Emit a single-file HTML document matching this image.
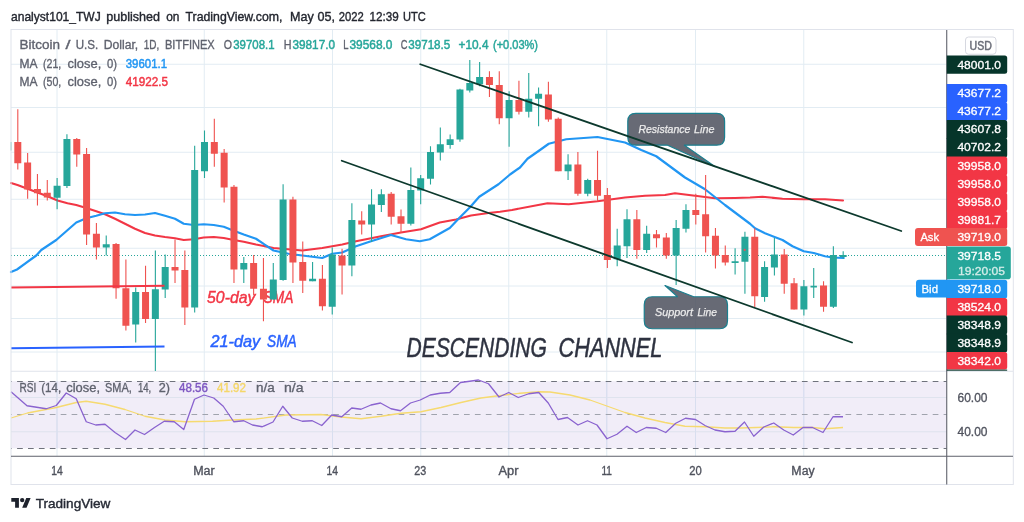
<!DOCTYPE html>
<html><head><meta charset="utf-8"><title>BTCUSD chart</title>
<style>html,body{margin:0;padding:0;background:#fff;}body{width:1024px;height:522px;overflow:hidden;font-family:"Liberation Sans",sans-serif;}svg{display:block;}text{font-family:"Liberation Sans",sans-serif;}</style></head><body>
<svg width="1024" height="522" viewBox="0 0 1024 522">
<rect x="0" y="0" width="1024" height="522" fill="#ffffff"/>
<g opacity="0.999">
<g stroke="#e2ecf3" stroke-width="1" fill="none">
<line x1="57" y1="30" x2="57" y2="456"/>
<line x1="204.25" y1="30" x2="204.25" y2="456"/>
<line x1="332.5" y1="30" x2="332.5" y2="456"/>
<line x1="420.75" y1="30" x2="420.75" y2="456"/>
<line x1="508.75" y1="30" x2="508.75" y2="456"/>
<line x1="606.75" y1="30" x2="606.75" y2="456"/>
<line x1="695.5" y1="30" x2="695.5" y2="456"/>
<line x1="803.75" y1="30" x2="803.75" y2="456"/>
<line x1="11" y1="64.25" x2="946.5" y2="64.25"/>
<line x1="11" y1="107.5" x2="946.5" y2="107.5"/>
<line x1="11" y1="152.25" x2="946.5" y2="152.25"/>
<line x1="11" y1="199.25" x2="946.5" y2="199.25"/>
<line x1="11" y1="248.25" x2="946.5" y2="248.25"/>
<line x1="11" y1="286" x2="946.5" y2="286"/>
<line x1="11" y1="318.5" x2="946.5" y2="318.5"/>
<line x1="11" y1="352" x2="946.5" y2="352"/>
</g>
<rect x="11" y="381.25" width="935.5" height="67" fill="#7e57c2" fill-opacity="0.11"/>
<g stroke="#dfe3ee" stroke-width="1" fill="none">
<line x1="11" y1="397.5" x2="946.5" y2="397.5"/>
<line x1="11" y1="431.75" x2="946.5" y2="431.75"/>
</g>
<g stroke="#d9dff0" stroke-width="1" fill="none" opacity="0.9">
<line x1="57" y1="381.25" x2="57" y2="448.25"/>
<line x1="204.25" y1="381.25" x2="204.25" y2="448.25"/>
<line x1="332.5" y1="381.25" x2="332.5" y2="448.25"/>
<line x1="420.75" y1="381.25" x2="420.75" y2="448.25"/>
<line x1="508.75" y1="381.25" x2="508.75" y2="448.25"/>
<line x1="606.75" y1="381.25" x2="606.75" y2="448.25"/>
<line x1="695.5" y1="381.25" x2="695.5" y2="448.25"/>
<line x1="803.75" y1="381.25" x2="803.75" y2="448.25"/>
</g>
<g stroke="#787b86" stroke-width="1" fill="none" stroke-dasharray="5.7,5.2" stroke-dashoffset="4.8">
<line x1="11" y1="381.5" x2="946.5" y2="381.5" stroke="#6f727c"/>
<line x1="11" y1="414.5" x2="946.5" y2="414.5" stroke="#a0a3ad"/>
<line x1="11" y1="448.5" x2="946.5" y2="448.5" stroke="#6f727c"/>
</g>
<path d="M11.00,418.00 L27.50,413.00 L56.25,407.50 L76.25,402.50 L86.25,401.25 L105.00,404.25 L125.00,409.50 L145.00,416.25 L165.00,420.00 L185.00,421.75 L212.50,421.25 L232.50,420.00 L256.00,419.00 L286.00,415.00 L321.00,414.50 L341.00,417.00 L361.00,418.75 L381.00,416.25 L401.00,413.25 L421.00,411.75 L441.00,407.50 L461.00,402.50 L481.00,398.00 L498.50,395.75 L520.00,393.25 L540.00,391.75 L550.00,392.00 L570.00,395.00 L590.00,400.00 L607.50,406.25 L625.00,412.50 L645.00,418.00 L665.00,422.50 L685.00,426.25 L705.00,426.75 L725.00,428.00 L740.00,428.00 L756.00,427.50 L773.75,426.75 L793.75,427.50 L812.50,427.50 L825.00,428.75 L843.00,427.50" fill="none" stroke="#f6da70" stroke-width="1.3" stroke-linejoin="round"/>
<path d="M11.00,391.75 L27.00,405.75 L46.25,408.75 L56.25,405.50 L66.25,393.00 L76.25,398.75 L86.25,421.75 L95.75,425.00 L105.00,424.25 L115.00,432.50 L125.50,439.50 L135.00,430.00 L144.50,434.50 L154.50,427.50 L164.25,421.25 L174.25,421.75 L183.75,429.50 L194.50,399.25 L204.00,395.00 L213.75,398.00 L223.25,406.25 L233.75,421.75 L243.75,420.75 L252.50,425.00 L262.25,426.75 L273.00,422.00 L282.75,406.25 L292.25,418.00 L302.25,421.25 L312.25,420.75 L321.75,425.50 L331.75,415.00 L341.75,416.75 L351.75,408.00 L361.00,409.25 L371.00,405.00 L380.50,403.00 L391.00,408.75 L400.50,410.75 L410.50,403.00 L420.25,400.00 L430.25,395.00 L440.25,393.25 L449.75,392.50 L460.50,382.50 L469.75,381.25 L478.50,380.00 L488.50,383.75 L499.00,397.00 L508.75,392.50 L518.25,397.50 L528.75,393.75 L538.75,392.50 L548.25,403.00 L558.00,419.50 L567.50,417.50 L578.00,425.00 L587.50,420.75 L597.00,425.00 L607.00,438.75 L617.00,434.25 L627.00,426.25 L636.25,432.50 L646.25,427.50 L656.25,428.25 L665.75,432.50 L675.75,423.25 L685.50,418.25 L695.50,419.50 L705.00,425.50 L715.00,430.00 L725.00,431.75 L735.00,431.25 L744.50,422.00 L753.75,436.25 L763.75,427.00 L773.75,423.00 L783.75,430.00 L793.25,435.00 L803.00,427.50 L812.50,427.50 L823.00,432.50 L833.00,416.75 L843.00,416.75" fill="none" stroke="#8a63cf" stroke-width="1.3" stroke-linejoin="round"/>
<line x1="11" y1="371.25" x2="1013" y2="371.25" stroke="#e0e3eb" stroke-width="1"/>
<text x="207.1" y="302.8" font-size="16" font-style="italic" fill="#f23645" stroke="#f23645" stroke-width="0.45" textLength="48.20" lengthAdjust="spacingAndGlyphs">50-day</text>
<text x="263.6" y="302.8" font-size="16" font-style="italic" fill="#f23645" stroke="#f23645" stroke-width="0.45" textLength="29.70" lengthAdjust="spacingAndGlyphs">SMA</text>
<text x="210.5" y="347.3" font-size="16" font-style="italic" fill="#2962ff" stroke="#2962ff" stroke-width="0.45" textLength="49.70" lengthAdjust="spacingAndGlyphs">21-day</text>
<text x="267.1" y="347.3" font-size="16" font-style="italic" fill="#2962ff" stroke="#2962ff" stroke-width="0.45" textLength="29.60" lengthAdjust="spacingAndGlyphs">SMA</text>
<text x="406.5" y="357.3" font-size="27" font-style="italic" fill="#2e3240" stroke="#2e3240" stroke-width="0.5" textLength="140.30" lengthAdjust="spacingAndGlyphs">DESCENDING</text>
<text x="558.5" y="357.3" font-size="27" font-style="italic" fill="#2e3240" stroke="#2e3240" stroke-width="0.5" textLength="103.90" lengthAdjust="spacingAndGlyphs">CHANNEL</text>
<line x1="11" y1="255.5" x2="946.5" y2="255.5" stroke="#26a69a" stroke-width="1" stroke-dasharray="1,2"/>
<path d="M11.00,183.00 L17.50,185.00 L27.50,188.75 L37.50,192.50 L47.50,196.25 L57.50,200.50 L67.50,203.25 L76.25,205.00 L86.25,208.00 L96.25,211.25 L105.00,214.25 L115.00,218.75 L125.00,223.75 L135.00,228.75 L145.00,233.00 L155.00,235.50 L165.00,237.00 L175.00,238.25 L183.75,240.00 L193.75,239.25 L203.75,237.50 L213.75,237.00 L223.75,238.00 L233.75,240.00 L243.75,241.75 L256.00,244.50 L273.50,248.00 L302.25,250.50 L322.25,248.00 L342.25,244.50 L356.00,241.25 L381.00,236.25 L401.00,232.50 L421.00,229.25 L439.75,222.50 L456.00,219.50 L471.00,215.50 L488.50,213.00 L500.00,211.75 L512.00,210.00 L547.50,203.25 L568.75,204.25 L597.50,201.25 L625.00,197.50 L645.00,195.75 L665.00,195.00 L675.00,193.25 L695.00,195.75 L715.00,198.25 L735.00,198.00 L750.00,197.50 L762.50,196.75 L782.50,198.75 L803.75,199.25 L825.00,199.25 L843.00,200.50" fill="none" stroke="#f23645" stroke-width="2.1" stroke-linejoin="round" stroke-linecap="round"/>
<path d="M11.00,272.00 L17.00,269.50 L36.25,255.50 L41.25,250.00 L56.25,240.00 L76.25,222.50 L86.25,218.25 L96.25,215.75 L105.00,213.25 L115.00,212.50 L125.00,214.25 L135.00,215.00 L145.00,214.50 L155.00,213.00 L165.00,215.75 L175.00,218.75 L183.75,223.75 L193.75,225.00 L203.75,224.25 L213.75,225.00 L223.75,226.75 L233.75,230.75 L243.75,234.50 L256.00,238.75 L273.50,250.50 L288.50,253.75 L302.25,255.50 L322.25,258.00 L332.25,253.75 L342.25,252.50 L356.00,246.25 L371.00,241.25 L391.00,235.00 L406.00,239.25 L419.75,241.25 L429.75,239.25 L449.75,228.00 L459.75,217.50 L469.75,207.50 L479.25,196.75 L498.50,184.25 L510.00,174.50 L520.00,167.50 L527.50,158.75 L540.00,150.00 L548.75,143.75 L566.25,139.25 L597.50,137.00 L625.00,142.50 L641.25,150.00 L656.25,156.25 L685.00,177.50 L705.00,189.25 L725.00,205.00 L750.00,223.75 L755.00,228.25 L765.00,233.25 L782.50,240.00 L792.50,246.25 L803.75,251.25 L813.75,253.00 L825.00,256.25 L832.50,257.50 L843.75,258.00" fill="none" stroke="#2196f3" stroke-width="2.2" stroke-linejoin="round" stroke-linecap="round"/>
<rect x="10.5" y="142" width="1.2" height="8.5" fill="#26a69a" opacity="0.6"/>
<rect x="17.25" y="109.25" width="1.1" height="60.25" fill="#ef5350"/>
<rect x="14.30" y="142.00" width="7.0" height="21.25" fill="#ef5350"/>
<rect x="27.08" y="153.00" width="1.1" height="45.75" fill="#ef5350"/>
<rect x="24.13" y="162.50" width="7.0" height="27.00" fill="#ef5350"/>
<rect x="36.90" y="174.00" width="1.1" height="31.50" fill="#ef5350"/>
<rect x="33.95" y="189.00" width="7.0" height="4.25" fill="#ef5350"/>
<rect x="46.73" y="180.00" width="1.1" height="20.50" fill="#ef5350"/>
<rect x="43.78" y="192.75" width="7.0" height="4.75" fill="#ef5350"/>
<rect x="56.55" y="178.00" width="1.1" height="31.25" fill="#26a69a"/>
<rect x="53.60" y="185.75" width="7.0" height="12.00" fill="#26a69a"/>
<rect x="66.38" y="134.25" width="1.1" height="53.75" fill="#26a69a"/>
<rect x="63.43" y="139.00" width="7.0" height="47.00" fill="#26a69a"/>
<rect x="76.21" y="138.00" width="1.1" height="28.75" fill="#ef5350"/>
<rect x="73.26" y="139.00" width="7.0" height="15.50" fill="#ef5350"/>
<rect x="86.03" y="148.00" width="1.1" height="97.00" fill="#ef5350"/>
<rect x="83.08" y="154.00" width="7.0" height="80.50" fill="#ef5350"/>
<rect x="95.86" y="223.00" width="1.1" height="36.50" fill="#ef5350"/>
<rect x="92.91" y="233.75" width="7.0" height="13.75" fill="#ef5350"/>
<rect x="105.68" y="235.50" width="1.1" height="20.00" fill="#26a69a"/>
<rect x="102.73" y="244.25" width="7.0" height="3.25" fill="#26a69a"/>
<rect x="115.51" y="243.00" width="1.1" height="55.75" fill="#ef5350"/>
<rect x="112.56" y="244.00" width="7.0" height="44.25" fill="#ef5350"/>
<rect x="125.34" y="259.50" width="1.1" height="71.00" fill="#ef5350"/>
<rect x="122.39" y="288.25" width="7.0" height="37.50" fill="#ef5350"/>
<rect x="135.16" y="287.50" width="1.1" height="55.00" fill="#26a69a"/>
<rect x="132.21" y="292.00" width="7.0" height="32.50" fill="#26a69a"/>
<rect x="144.99" y="265.75" width="1.1" height="57.25" fill="#ef5350"/>
<rect x="142.04" y="292.00" width="7.0" height="27.00" fill="#ef5350"/>
<rect x="154.81" y="250.50" width="1.1" height="120.50" fill="#26a69a"/>
<rect x="151.86" y="289.25" width="7.0" height="29.75" fill="#26a69a"/>
<rect x="164.64" y="254.50" width="1.1" height="43.50" fill="#26a69a"/>
<rect x="161.69" y="267.00" width="7.0" height="22.50" fill="#26a69a"/>
<rect x="174.47" y="239.50" width="1.1" height="43.50" fill="#ef5350"/>
<rect x="171.52" y="267.00" width="7.0" height="3.50" fill="#ef5350"/>
<rect x="184.29" y="250.50" width="1.1" height="74.50" fill="#ef5350"/>
<rect x="181.34" y="270.00" width="7.0" height="37.50" fill="#ef5350"/>
<rect x="194.12" y="145.75" width="1.1" height="166.75" fill="#26a69a"/>
<rect x="191.17" y="170.00" width="7.0" height="137.50" fill="#26a69a"/>
<rect x="203.94" y="130.50" width="1.1" height="47.50" fill="#26a69a"/>
<rect x="200.99" y="142.00" width="7.0" height="29.25" fill="#26a69a"/>
<rect x="213.77" y="118.75" width="1.1" height="48.00" fill="#ef5350"/>
<rect x="210.82" y="142.00" width="7.0" height="11.75" fill="#ef5350"/>
<rect x="223.60" y="149.00" width="1.1" height="53.50" fill="#ef5350"/>
<rect x="220.65" y="152.75" width="7.0" height="34.75" fill="#ef5350"/>
<rect x="233.42" y="185.00" width="1.1" height="98.00" fill="#ef5350"/>
<rect x="230.47" y="186.75" width="7.0" height="82.75" fill="#ef5350"/>
<rect x="243.25" y="257.00" width="1.1" height="26.00" fill="#26a69a"/>
<rect x="240.30" y="263.00" width="7.0" height="6.50" fill="#26a69a"/>
<rect x="253.07" y="255.00" width="1.1" height="40.00" fill="#ef5350"/>
<rect x="250.12" y="263.00" width="7.0" height="25.75" fill="#ef5350"/>
<rect x="262.90" y="258.00" width="1.1" height="63.25" fill="#ef5350"/>
<rect x="259.95" y="288.75" width="7.0" height="10.75" fill="#ef5350"/>
<rect x="272.73" y="263.00" width="1.1" height="36.50" fill="#26a69a"/>
<rect x="269.78" y="279.50" width="7.0" height="20.00" fill="#26a69a"/>
<rect x="282.55" y="184.25" width="1.1" height="96.50" fill="#26a69a"/>
<rect x="279.60" y="199.50" width="7.0" height="80.50" fill="#26a69a"/>
<rect x="292.38" y="196.75" width="1.1" height="86.25" fill="#ef5350"/>
<rect x="289.43" y="199.50" width="7.0" height="63.00" fill="#ef5350"/>
<rect x="302.20" y="241.50" width="1.1" height="51.50" fill="#ef5350"/>
<rect x="299.25" y="262.00" width="7.0" height="18.75" fill="#ef5350"/>
<rect x="312.03" y="262.00" width="1.1" height="19.25" fill="#26a69a"/>
<rect x="309.08" y="278.75" width="7.0" height="2.50" fill="#26a69a"/>
<rect x="321.86" y="265.00" width="1.1" height="45.50" fill="#ef5350"/>
<rect x="318.91" y="278.75" width="7.0" height="27.50" fill="#ef5350"/>
<rect x="331.68" y="247.50" width="1.1" height="67.00" fill="#26a69a"/>
<rect x="328.73" y="254.50" width="7.0" height="52.25" fill="#26a69a"/>
<rect x="341.51" y="248.75" width="1.1" height="45.75" fill="#ef5350"/>
<rect x="338.56" y="255.50" width="7.0" height="10.00" fill="#ef5350"/>
<rect x="351.33" y="203.25" width="1.1" height="73.00" fill="#26a69a"/>
<rect x="348.38" y="220.00" width="7.0" height="45.50" fill="#26a69a"/>
<rect x="361.16" y="211.25" width="1.1" height="23.25" fill="#ef5350"/>
<rect x="358.21" y="220.50" width="7.0" height="4.00" fill="#ef5350"/>
<rect x="370.99" y="189.25" width="1.1" height="52.75" fill="#26a69a"/>
<rect x="368.04" y="204.50" width="7.0" height="20.00" fill="#26a69a"/>
<rect x="380.81" y="189.25" width="1.1" height="22.75" fill="#26a69a"/>
<rect x="377.86" y="194.25" width="7.0" height="10.75" fill="#26a69a"/>
<rect x="390.64" y="192.00" width="1.1" height="32.50" fill="#ef5350"/>
<rect x="387.69" y="193.75" width="7.0" height="23.00" fill="#ef5350"/>
<rect x="400.46" y="209.50" width="1.1" height="23.50" fill="#ef5350"/>
<rect x="397.51" y="216.25" width="7.0" height="7.50" fill="#ef5350"/>
<rect x="410.29" y="167.50" width="1.1" height="58.00" fill="#26a69a"/>
<rect x="407.34" y="190.00" width="7.0" height="33.75" fill="#26a69a"/>
<rect x="420.12" y="175.00" width="1.1" height="29.25" fill="#26a69a"/>
<rect x="417.17" y="178.25" width="7.0" height="12.25" fill="#26a69a"/>
<rect x="429.94" y="146.25" width="1.1" height="38.25" fill="#26a69a"/>
<rect x="426.99" y="152.00" width="7.0" height="26.75" fill="#26a69a"/>
<rect x="439.77" y="127.50" width="1.1" height="33.00" fill="#26a69a"/>
<rect x="436.82" y="144.25" width="7.0" height="8.25" fill="#26a69a"/>
<rect x="449.59" y="134.50" width="1.1" height="14.25" fill="#26a69a"/>
<rect x="446.64" y="139.25" width="7.0" height="5.75" fill="#26a69a"/>
<rect x="459.42" y="88.75" width="1.1" height="53.00" fill="#26a69a"/>
<rect x="456.47" y="89.50" width="7.0" height="50.00" fill="#26a69a"/>
<rect x="469.25" y="60.00" width="1.1" height="32.50" fill="#26a69a"/>
<rect x="466.30" y="83.00" width="7.0" height="7.50" fill="#26a69a"/>
<rect x="479.07" y="62.00" width="1.1" height="24.25" fill="#26a69a"/>
<rect x="476.12" y="77.00" width="7.0" height="7.25" fill="#26a69a"/>
<rect x="488.90" y="71.25" width="1.1" height="25.75" fill="#ef5350"/>
<rect x="485.95" y="77.00" width="7.0" height="8.00" fill="#ef5350"/>
<rect x="498.72" y="71.25" width="1.1" height="53.00" fill="#ef5350"/>
<rect x="495.77" y="85.00" width="7.0" height="33.25" fill="#ef5350"/>
<rect x="508.55" y="91.25" width="1.1" height="55.50" fill="#26a69a"/>
<rect x="505.60" y="100.00" width="7.0" height="18.25" fill="#26a69a"/>
<rect x="518.38" y="80.75" width="1.1" height="33.75" fill="#ef5350"/>
<rect x="515.43" y="100.00" width="7.0" height="11.75" fill="#ef5350"/>
<rect x="528.20" y="73.00" width="1.1" height="44.50" fill="#26a69a"/>
<rect x="525.25" y="98.75" width="7.0" height="13.00" fill="#26a69a"/>
<rect x="538.03" y="87.50" width="1.1" height="38.75" fill="#26a69a"/>
<rect x="535.08" y="93.75" width="7.0" height="5.00" fill="#26a69a"/>
<rect x="547.85" y="81.75" width="1.1" height="40.00" fill="#ef5350"/>
<rect x="544.90" y="94.50" width="7.0" height="25.00" fill="#ef5350"/>
<rect x="557.68" y="117.50" width="1.1" height="53.75" fill="#ef5350"/>
<rect x="554.73" y="118.75" width="7.0" height="52.50" fill="#ef5350"/>
<rect x="567.51" y="154.25" width="1.1" height="25.75" fill="#26a69a"/>
<rect x="564.56" y="164.50" width="7.0" height="6.75" fill="#26a69a"/>
<rect x="577.33" y="152.00" width="1.1" height="43.75" fill="#ef5350"/>
<rect x="574.38" y="164.50" width="7.0" height="29.25" fill="#ef5350"/>
<rect x="587.16" y="178.75" width="1.1" height="17.50" fill="#26a69a"/>
<rect x="584.21" y="180.00" width="7.0" height="13.75" fill="#26a69a"/>
<rect x="596.98" y="150.75" width="1.1" height="50.50" fill="#ef5350"/>
<rect x="594.03" y="180.00" width="7.0" height="15.75" fill="#ef5350"/>
<rect x="606.81" y="188.00" width="1.1" height="80.00" fill="#ef5350"/>
<rect x="603.86" y="195.00" width="7.0" height="65.00" fill="#ef5350"/>
<rect x="616.64" y="228.75" width="1.1" height="37.50" fill="#26a69a"/>
<rect x="613.69" y="245.50" width="7.0" height="13.75" fill="#26a69a"/>
<rect x="626.46" y="209.25" width="1.1" height="48.75" fill="#26a69a"/>
<rect x="623.51" y="219.25" width="7.0" height="27.00" fill="#26a69a"/>
<rect x="636.29" y="210.00" width="1.1" height="48.75" fill="#ef5350"/>
<rect x="633.34" y="219.25" width="7.0" height="30.75" fill="#ef5350"/>
<rect x="646.11" y="225.75" width="1.1" height="27.25" fill="#26a69a"/>
<rect x="643.16" y="233.75" width="7.0" height="16.25" fill="#26a69a"/>
<rect x="655.94" y="230.00" width="1.1" height="17.50" fill="#ef5350"/>
<rect x="652.99" y="234.25" width="7.0" height="4.00" fill="#ef5350"/>
<rect x="665.77" y="233.00" width="1.1" height="25.75" fill="#ef5350"/>
<rect x="662.82" y="237.50" width="7.0" height="18.00" fill="#ef5350"/>
<rect x="675.59" y="220.00" width="1.1" height="65.00" fill="#26a69a"/>
<rect x="672.64" y="228.00" width="7.0" height="27.50" fill="#26a69a"/>
<rect x="685.42" y="204.25" width="1.1" height="28.25" fill="#26a69a"/>
<rect x="682.47" y="210.00" width="7.0" height="18.75" fill="#26a69a"/>
<rect x="695.24" y="193.75" width="1.1" height="30.75" fill="#ef5350"/>
<rect x="692.29" y="210.00" width="7.0" height="5.00" fill="#ef5350"/>
<rect x="705.07" y="175.00" width="1.1" height="77.50" fill="#ef5350"/>
<rect x="702.12" y="214.25" width="7.0" height="22.00" fill="#ef5350"/>
<rect x="714.90" y="228.00" width="1.1" height="40.50" fill="#ef5350"/>
<rect x="711.95" y="235.75" width="7.0" height="19.75" fill="#ef5350"/>
<rect x="724.72" y="245.50" width="1.1" height="20.00" fill="#ef5350"/>
<rect x="721.77" y="255.00" width="7.0" height="7.50" fill="#ef5350"/>
<rect x="734.55" y="248.25" width="1.1" height="26.25" fill="#26a69a"/>
<rect x="731.60" y="261.25" width="7.0" height="1.75" fill="#26a69a"/>
<rect x="744.37" y="231.75" width="1.1" height="62.00" fill="#26a69a"/>
<rect x="741.42" y="236.75" width="7.0" height="25.00" fill="#26a69a"/>
<rect x="754.20" y="228.25" width="1.1" height="78.75" fill="#ef5350"/>
<rect x="751.25" y="236.75" width="7.0" height="59.50" fill="#ef5350"/>
<rect x="764.03" y="261.25" width="1.1" height="40.50" fill="#26a69a"/>
<rect x="761.08" y="267.00" width="7.0" height="30.00" fill="#26a69a"/>
<rect x="773.85" y="238.00" width="1.1" height="37.50" fill="#26a69a"/>
<rect x="770.90" y="254.50" width="7.0" height="13.00" fill="#26a69a"/>
<rect x="783.68" y="249.00" width="1.1" height="44.75" fill="#ef5350"/>
<rect x="780.73" y="254.50" width="7.0" height="29.25" fill="#ef5350"/>
<rect x="793.50" y="278.00" width="1.1" height="31.50" fill="#ef5350"/>
<rect x="790.55" y="283.25" width="7.0" height="26.25" fill="#ef5350"/>
<rect x="803.33" y="280.00" width="1.1" height="35.50" fill="#26a69a"/>
<rect x="800.38" y="286.25" width="7.0" height="23.25" fill="#26a69a"/>
<rect x="813.16" y="268.00" width="1.1" height="30.00" fill="#26a69a"/>
<rect x="810.51" y="285.75" width="6.4" height="1.75" fill="#26a69a"/>
<rect x="822.98" y="281.25" width="1.1" height="30.50" fill="#ef5350"/>
<rect x="820.03" y="285.50" width="7.0" height="21.25" fill="#ef5350"/>
<rect x="832.81" y="246.25" width="1.1" height="61.75" fill="#26a69a"/>
<rect x="829.86" y="255.00" width="7.0" height="51.75" fill="#26a69a"/>
<rect x="842.63" y="251.25" width="1.1" height="7.50" fill="#26a69a"/>
<rect x="839.68" y="255.00" width="7.0" height="2.00" fill="#26a69a"/>
<circle cx="744.7" cy="249.9" r="1.1" fill="#e2505c"/>
<line x1="11" y1="287.5" x2="164.5" y2="285.75" stroke="#f23645" stroke-width="2"/>
<line x1="11" y1="348.25" x2="164.5" y2="346.5" stroke="#2962ff" stroke-width="2"/>
<path d="M635.8,113.3 L716.6,113.3 Q724.6,113.3 724.6,121.3 L724.6,137.2 Q724.6,145.2 716.6,145.2 L684.4,145.2 L715.2,166.7 L667.6,145.2 L635.8,145.2 Q627.8,145.2 627.8,137.2 L627.8,121.3 Q627.8,113.3 635.8,113.3 Z" fill="rgba(78,81,94,0.86)" stroke="#1b7f8f" stroke-width="1.2" stroke-linejoin="round"/>
<path d="M652.25,296.75 L677.5,296.75 L665,285.5 L693.75,296.75 L719.5,296.75 Q727.5,296.75 727.5,304.75 L727.5,320.75 Q727.5,328.75 719.5,328.75 L652.25,328.75 Q644.25,328.75 644.25,320.75 L644.25,304.75 Q644.25,296.75 652.25,296.75 Z" fill="rgba(78,81,94,0.86)" stroke="#1b7f8f" stroke-width="1.2" stroke-linejoin="round"/>
<text x="638.4" y="132.7" font-size="11.3" font-style="italic" fill="#ececec" stroke="#ececec" stroke-width="0.25" textLength="52.00" lengthAdjust="spacingAndGlyphs">Resistance</text>
<text x="694.1" y="132.7" font-size="11.3" font-style="italic" fill="#ececec" stroke="#ececec" stroke-width="0.25" textLength="20.40" lengthAdjust="spacingAndGlyphs">Line</text>
<text x="655" y="316.4" font-size="11.3" font-style="italic" fill="#ececec" stroke="#ececec" stroke-width="0.25" textLength="38.00" lengthAdjust="spacingAndGlyphs">Support</text>
<text x="697.5" y="316.4" font-size="11.3" font-style="italic" fill="#ececec" stroke="#ececec" stroke-width="0.25" textLength="19.50" lengthAdjust="spacingAndGlyphs">Line</text>
<line x1="420.25" y1="64.25" x2="901.25" y2="231" stroke="#0c392d" stroke-width="1.85" stroke-linecap="round"/>
<line x1="341.75" y1="160.75" x2="852" y2="342.5" stroke="#0c392d" stroke-width="1.85" stroke-linecap="round"/>
<rect x="11" y="29.5" width="1002.3" height="455" fill="none" stroke="#e0e3eb" stroke-width="1"/>
<line x1="946.75" y1="30" x2="946.75" y2="484.5" stroke="#50535e" stroke-width="1"/>
<line x1="11" y1="456.25" x2="1013" y2="456.25" stroke="#5d606b" stroke-width="1"/>
<path d="M946.75,55.5 L1004.7,55.5 Q1007.2,55.5 1007.2,58.0 L1007.2,71.25 Q1007.2,73.75 1004.7,73.75 L946.75,73.75 Z" fill="#06352a"/>
<text stroke="#ffffff" stroke-width="0.3" x="957.4" y="68.72" font-size="11.6" fill="#ffffff" textLength="43.6" lengthAdjust="spacingAndGlyphs">48001.0</text>
<path d="M946.75,84 L1004.7,84 Q1007.2,84 1007.2,86.5 L1007.2,100.60000000000001 Q1007.2,103.10000000000001 1004.7,103.10000000000001 L946.75,103.10000000000001 Z" fill="#2962ff"/>
<text stroke="#ffffff" stroke-width="0.3" x="957.4" y="97.20" font-size="11.6" fill="#ffffff" textLength="43.6" lengthAdjust="spacingAndGlyphs">43677.2</text>
<path d="M946.75,102 L1004.7,102 Q1007.2,102 1007.2,104.5 L1007.2,118.60000000000001 Q1007.2,121.10000000000001 1004.7,121.10000000000001 L946.75,121.10000000000001 Z" fill="#2962ff"/>
<text stroke="#ffffff" stroke-width="0.3" x="957.4" y="115.20" font-size="11.6" fill="#ffffff" textLength="43.6" lengthAdjust="spacingAndGlyphs">43677.2</text>
<path d="M946.75,120 L1004.7,120 Q1007.2,120 1007.2,122.5 L1007.2,136.6 Q1007.2,139.1 1004.7,139.1 L946.75,139.1 Z" fill="#06352a"/>
<text stroke="#ffffff" stroke-width="0.3" x="957.4" y="133.20" font-size="11.6" fill="#ffffff" textLength="43.6" lengthAdjust="spacingAndGlyphs">43607.8</text>
<path d="M946.75,138 L1004.7,138 Q1007.2,138 1007.2,140.5 L1007.2,155.0 Q1007.2,157.5 1004.7,157.5 L946.75,157.5 Z" fill="#06352a"/>
<text stroke="#ffffff" stroke-width="0.3" x="957.4" y="151.40" font-size="11.6" fill="#ffffff" textLength="43.6" lengthAdjust="spacingAndGlyphs">40702.2</text>
<path d="M946.75,156.5 L1004.7,156.5 Q1007.2,156.5 1007.2,159.0 L1007.2,173.1 Q1007.2,175.6 1004.7,175.6 L946.75,175.6 Z" fill="#f23645"/>
<text stroke="#ffffff" stroke-width="0.3" x="957.4" y="169.70" font-size="11.6" fill="#ffffff" textLength="43.6" lengthAdjust="spacingAndGlyphs">39958.0</text>
<path d="M946.75,174.5 L1004.7,174.5 Q1007.2,174.5 1007.2,177.0 L1007.2,191.1 Q1007.2,193.6 1004.7,193.6 L946.75,193.6 Z" fill="#f23645"/>
<text stroke="#ffffff" stroke-width="0.3" x="957.4" y="187.70" font-size="11.6" fill="#ffffff" textLength="43.6" lengthAdjust="spacingAndGlyphs">39958.0</text>
<path d="M946.75,192.5 L1004.7,192.5 Q1007.2,192.5 1007.2,195.0 L1007.2,209.1 Q1007.2,211.6 1004.7,211.6 L946.75,211.6 Z" fill="#f23645"/>
<text stroke="#ffffff" stroke-width="0.3" x="957.4" y="205.70" font-size="11.6" fill="#ffffff" textLength="43.6" lengthAdjust="spacingAndGlyphs">39958.0</text>
<path d="M946.75,210.5 L1004.7,210.5 Q1007.2,210.5 1007.2,213.0 L1007.2,226.8 Q1007.2,229.3 1004.7,229.3 L946.75,229.3 Z" fill="#f23645"/>
<text stroke="#ffffff" stroke-width="0.3" x="957.4" y="223.55" font-size="11.6" fill="#ffffff" textLength="43.6" lengthAdjust="spacingAndGlyphs">39881.7</text>
<path d="M918,228.1 L950,228.1 L950,246 L918,246 Q915,246 915,243 L915,231.1 Q915,228.1 918,228.1 Z" fill="#ef5350"/>
<path d="M946.75,228.1 L1004.7,228.1 Q1007.2,228.1 1007.2,230.6 L1007.2,243.5 Q1007.2,246 1004.7,246 L946.75,246 Z" fill="#ef5350"/>
<text stroke="#ffffff" stroke-width="0.3" x="957.4" y="241.15" font-size="11.6" fill="#ffffff" textLength="43.6" lengthAdjust="spacingAndGlyphs">39719.0</text>
<text stroke="#ffffff" stroke-width="0.3" x="920.4" y="241" font-size="11.6" fill="#ffffff" textLength="18.7" lengthAdjust="spacingAndGlyphs">Ask</text>
<path d="M946.75,246.4 L1008,246.4 Q1010.8,246.4 1010.8,249.2 L1010.8,276.4 Q1010.8,279.2 1008,279.2 L946.75,279.2 Z" fill="#26a69a"/>
<text stroke="#ffffff" stroke-width="0.3" x="957.4" y="259.9" font-size="11.6" fill="#ffffff" textLength="43.6" lengthAdjust="spacingAndGlyphs">39718.5</text>
<text stroke="#d4ede9" stroke-width="0.3" x="958" y="274.8" font-size="11.6" fill="#d4ede9" textLength="47" lengthAdjust="spacingAndGlyphs">19:20:05</text>
<path d="M919,279.7 L950,279.7 L950,297.5 L919,297.5 Q916,297.5 916,294.5 L916,282.7 Q916,279.7 919,279.7 Z" fill="#2196f3"/>
<path d="M946.75,279.7 L1004.7,279.7 Q1007.2,279.7 1007.2,282.2 L1007.2,296.0 Q1007.2,298.5 1004.7,298.5 L946.75,298.5 Z" fill="#2196f3"/>
<text stroke="#ffffff" stroke-width="0.3" x="957.4" y="292.75" font-size="11.6" fill="#ffffff" textLength="43.6" lengthAdjust="spacingAndGlyphs">39718.0</text>
<text stroke="#ffffff" stroke-width="0.3" x="921.5" y="292.7" font-size="11.6" fill="#ffffff" textLength="16.5" lengthAdjust="spacingAndGlyphs">Bid</text>
<path d="M946.75,298 L1004.7,298 Q1007.2,298 1007.2,300.5 L1007.2,314.09999999999997 Q1007.2,316.59999999999997 1004.7,316.59999999999997 L946.75,316.59999999999997 Z" fill="#f23645"/>
<text stroke="#ffffff" stroke-width="0.3" x="957.4" y="310.95" font-size="11.6" fill="#ffffff" textLength="43.6" lengthAdjust="spacingAndGlyphs">38524.0</text>
<path d="M946.75,315.5 L1004.7,315.5 Q1007.2,315.5 1007.2,318.0 L1007.2,332.09999999999997 Q1007.2,334.59999999999997 1004.7,334.59999999999997 L946.75,334.59999999999997 Z" fill="#06352a"/>
<text stroke="#ffffff" stroke-width="0.3" x="957.4" y="328.70" font-size="11.6" fill="#ffffff" textLength="43.6" lengthAdjust="spacingAndGlyphs">38348.9</text>
<path d="M946.75,333.5 L1004.7,333.5 Q1007.2,333.5 1007.2,336.0 L1007.2,350.09999999999997 Q1007.2,352.59999999999997 1004.7,352.59999999999997 L946.75,352.59999999999997 Z" fill="#06352a"/>
<text stroke="#ffffff" stroke-width="0.3" x="957.4" y="346.70" font-size="11.6" fill="#ffffff" textLength="43.6" lengthAdjust="spacingAndGlyphs">38348.9</text>
<path d="M946.75,352 L1004.7,352 Q1007.2,352 1007.2,354.5 L1007.2,367.1 Q1007.2,369.6 1004.7,369.6 L946.75,369.6 Z" fill="#f23645"/>
<text stroke="#ffffff" stroke-width="0.3" x="957.4" y="364.90" font-size="11.6" fill="#ffffff" textLength="43.6" lengthAdjust="spacingAndGlyphs">38342.0</text>
<rect x="946.75" y="369.6" width="60.4" height="1.1" fill="#06352a"/>
<text stroke="#50535e" stroke-width="0.3" x="957.5" y="401.8" font-size="12" fill="#50535e" textLength="30" lengthAdjust="spacingAndGlyphs">60.00</text>
<text stroke="#50535e" stroke-width="0.3" x="957.5" y="435.8" font-size="12" fill="#50535e" textLength="30" lengthAdjust="spacingAndGlyphs">40.00</text>
<rect x="965.5" y="37" width="30.5" height="17.25" rx="3" ry="3" fill="#ffffff" stroke="#d6d8e0" stroke-width="1"/>
<text x="969.5" y="49.9" font-size="12" fill="#6a6d78" stroke="#6a6d78" stroke-width="0.5" textLength="22.3" lengthAdjust="spacingAndGlyphs">USD</text>
<text x="11" y="20.6" font-size="13" fill="#23262f" stroke="#23262f" stroke-width="0.38" textLength="89.75" lengthAdjust="spacingAndGlyphs">analyst101_TWJ</text>
<text x="106.25" y="20.6" font-size="13" fill="#23262f" stroke="#23262f" stroke-width="0.38" textLength="53.75" lengthAdjust="spacingAndGlyphs">published</text>
<text x="166.25" y="20.6" font-size="13" fill="#23262f" stroke="#23262f" stroke-width="0.38" textLength="13.25" lengthAdjust="spacingAndGlyphs">on</text>
<text x="185.5" y="20.6" font-size="13" fill="#23262f" stroke="#23262f" stroke-width="0.38" textLength="97.00" lengthAdjust="spacingAndGlyphs">TradingView.com,</text>
<text x="290" y="20.6" font-size="13" fill="#23262f" stroke="#23262f" stroke-width="0.38" textLength="23.75" lengthAdjust="spacingAndGlyphs">May</text>
<text x="317.5" y="20.6" font-size="13" fill="#23262f" stroke="#23262f" stroke-width="0.38" textLength="17.50" lengthAdjust="spacingAndGlyphs">05,</text>
<text x="338.75" y="20.6" font-size="13" fill="#23262f" stroke="#23262f" stroke-width="0.38" textLength="25.00" lengthAdjust="spacingAndGlyphs">2022</text>
<text x="369.5" y="20.6" font-size="13" fill="#23262f" stroke="#23262f" stroke-width="0.38" textLength="29.25" lengthAdjust="spacingAndGlyphs">12:39</text>
<text x="403" y="20.6" font-size="13" fill="#23262f" stroke="#23262f" stroke-width="0.38" textLength="22.75" lengthAdjust="spacingAndGlyphs">UTC</text>
<text x="19.5" y="49.45" font-size="12" fill="#5f626e" stroke="#5f626e" stroke-width="0.32" textLength="40.50" lengthAdjust="spacingAndGlyphs">Bitcoin</text>
<text x="65.5" y="49.45" font-size="12" fill="#5f626e" stroke="#5f626e" stroke-width="0.32" textLength="5.00" lengthAdjust="spacingAndGlyphs">/</text>
<text x="75.75" y="49.45" font-size="12" fill="#5f626e" stroke="#5f626e" stroke-width="0.32" textLength="22.50" lengthAdjust="spacingAndGlyphs">U.S.</text>
<text x="103.75" y="49.45" font-size="12" fill="#5f626e" stroke="#5f626e" stroke-width="0.32" textLength="34.50" lengthAdjust="spacingAndGlyphs">Dollar,</text>
<text x="143.75" y="49.45" font-size="12" fill="#5f626e" stroke="#5f626e" stroke-width="0.32" textLength="15.50" lengthAdjust="spacingAndGlyphs">1D,</text>
<text x="165" y="49.45" font-size="12" fill="#5f626e" stroke="#5f626e" stroke-width="0.32" textLength="49.75" lengthAdjust="spacingAndGlyphs">BITFINEX</text>
<text x="223.75" y="49.45" font-size="12" fill="#5f626e" stroke="#5f626e" stroke-width="0.32" textLength="8.25" lengthAdjust="spacingAndGlyphs">O</text>
<text x="283.75" y="49.45" font-size="12" fill="#5f626e" stroke="#5f626e" stroke-width="0.32" textLength="7.75" lengthAdjust="spacingAndGlyphs">H</text>
<text x="343.25" y="49.45" font-size="12" fill="#5f626e" stroke="#5f626e" stroke-width="0.32" textLength="5.25" lengthAdjust="spacingAndGlyphs">L</text>
<text x="400.75" y="49.45" font-size="12" fill="#5f626e" stroke="#5f626e" stroke-width="0.32" textLength="6.75" lengthAdjust="spacingAndGlyphs">C</text>
<text x="233.25" y="49.45" font-size="12" fill="#26a69a" stroke="#26a69a" stroke-width="0.45" textLength="41.25" lengthAdjust="spacingAndGlyphs">39708.1</text>
<text x="292.5" y="49.45" font-size="12" fill="#26a69a" stroke="#26a69a" stroke-width="0.45" textLength="42.50" lengthAdjust="spacingAndGlyphs">39817.0</text>
<text x="349.5" y="49.45" font-size="12" fill="#26a69a" stroke="#26a69a" stroke-width="0.45" textLength="43.00" lengthAdjust="spacingAndGlyphs">39568.0</text>
<text x="408.25" y="49.45" font-size="12" fill="#26a69a" stroke="#26a69a" stroke-width="0.45" textLength="42.00" lengthAdjust="spacingAndGlyphs">39718.5</text>
<text x="458.5" y="49.45" font-size="12" fill="#26a69a" stroke="#26a69a" stroke-width="0.45" textLength="30.00" lengthAdjust="spacingAndGlyphs">+10.4</text>
<text x="493" y="49.45" font-size="12" fill="#26a69a" stroke="#26a69a" stroke-width="0.45" textLength="45.00" lengthAdjust="spacingAndGlyphs">(+0.03%)</text>
<text x="19.5" y="67.75" font-size="12" fill="#5f626e" stroke="#5f626e" stroke-width="0.32" textLength="18.00" lengthAdjust="spacingAndGlyphs">MA</text>
<text x="43" y="67.75" font-size="12" fill="#5f626e" stroke="#5f626e" stroke-width="0.32" textLength="18.25" lengthAdjust="spacingAndGlyphs">(21,</text>
<text x="67.5" y="67.75" font-size="12" fill="#5f626e" stroke="#5f626e" stroke-width="0.32" textLength="33.75" lengthAdjust="spacingAndGlyphs">close,</text>
<text x="107" y="67.75" font-size="12" fill="#5f626e" stroke="#5f626e" stroke-width="0.32" textLength="10.00" lengthAdjust="spacingAndGlyphs">0)</text>
<text x="125.75" y="67.75" font-size="12" fill="#2196f3" stroke="#2196f3" stroke-width="0.45" textLength="41.25" lengthAdjust="spacingAndGlyphs">39601.1</text>
<text x="19.5" y="86.2" font-size="12" fill="#5f626e" stroke="#5f626e" stroke-width="0.32" textLength="18.00" lengthAdjust="spacingAndGlyphs">MA</text>
<text x="43" y="86.2" font-size="12" fill="#5f626e" stroke="#5f626e" stroke-width="0.32" textLength="18.25" lengthAdjust="spacingAndGlyphs">(50,</text>
<text x="67.5" y="86.2" font-size="12" fill="#5f626e" stroke="#5f626e" stroke-width="0.32" textLength="33.75" lengthAdjust="spacingAndGlyphs">close,</text>
<text x="107" y="86.2" font-size="12" fill="#5f626e" stroke="#5f626e" stroke-width="0.32" textLength="10.00" lengthAdjust="spacingAndGlyphs">0)</text>
<text x="125.75" y="86.2" font-size="12" fill="#f23645" stroke="#f23645" stroke-width="0.45" textLength="42.25" lengthAdjust="spacingAndGlyphs">41922.5</text>
<text x="19.5" y="392.4" font-size="12" fill="#5f626e" stroke="#5f626e" stroke-width="0.32" textLength="16.75" lengthAdjust="spacingAndGlyphs">RSI</text>
<text x="41.25" y="392.4" font-size="12" fill="#5f626e" stroke="#5f626e" stroke-width="0.32" textLength="20.00" lengthAdjust="spacingAndGlyphs">(14,</text>
<text x="66.25" y="392.4" font-size="12" fill="#5f626e" stroke="#5f626e" stroke-width="0.32" textLength="33.75" lengthAdjust="spacingAndGlyphs">close,</text>
<text x="105" y="392.4" font-size="12" fill="#5f626e" stroke="#5f626e" stroke-width="0.32" textLength="26.75" lengthAdjust="spacingAndGlyphs">SMA,</text>
<text x="138" y="392.4" font-size="12" fill="#5f626e" stroke="#5f626e" stroke-width="0.32" textLength="13.25" lengthAdjust="spacingAndGlyphs">14,</text>
<text x="158.75" y="392.4" font-size="12" fill="#5f626e" stroke="#5f626e" stroke-width="0.32" textLength="11.25" lengthAdjust="spacingAndGlyphs">2)</text>
<text x="179" y="392.4" font-size="12" fill="#7e57c2" stroke="#7e57c2" stroke-width="0.4" textLength="29.00" lengthAdjust="spacingAndGlyphs">48.56</text>
<text x="217" y="392.4" font-size="12" fill="#f5d76a" stroke="#f5d76a" stroke-width="0.4" textLength="29.00" lengthAdjust="spacingAndGlyphs">41.92</text>
<text x="256" y="392.4" font-size="12" fill="#5f626e" stroke="#5f626e" stroke-width="0.32" textLength="18.75" lengthAdjust="spacingAndGlyphs">n/a</text>
<text x="284" y="392.4" font-size="12" fill="#5f626e" stroke="#5f626e" stroke-width="0.32" textLength="19.50" lengthAdjust="spacingAndGlyphs">n/a</text>
<text x="51.25" y="475" font-size="12" fill="#4f525d" stroke="#4f525d" stroke-width="0.35" textLength="11.5" lengthAdjust="spacingAndGlyphs">14</text>
<text x="193.15" y="475" font-size="12" fill="#4f525d" stroke="#4f525d" stroke-width="0.35" textLength="21.5" lengthAdjust="spacingAndGlyphs">Mar</text>
<text x="326.50" y="475" font-size="12" fill="#4f525d" stroke="#4f525d" stroke-width="0.35" textLength="11.5" lengthAdjust="spacingAndGlyphs">14</text>
<text x="414.25" y="475" font-size="12" fill="#4f525d" stroke="#4f525d" stroke-width="0.35" textLength="12" lengthAdjust="spacingAndGlyphs">23</text>
<text x="498.50" y="475" font-size="12" fill="#4f525d" stroke="#4f525d" stroke-width="0.35" textLength="20" lengthAdjust="spacingAndGlyphs">Apr</text>
<text x="601.50" y="475" font-size="12" fill="#4f525d" stroke="#4f525d" stroke-width="0.35" textLength="10.5" lengthAdjust="spacingAndGlyphs">11</text>
<text x="689.25" y="475" font-size="12" fill="#4f525d" stroke="#4f525d" stroke-width="0.35" textLength="12.5" lengthAdjust="spacingAndGlyphs">20</text>
<text x="791.38" y="475" font-size="12" fill="#4f525d" stroke="#4f525d" stroke-width="0.35" textLength="23.25" lengthAdjust="spacingAndGlyphs">May</text>
<g transform="translate(11.3,495.7) scale(0.544)" fill="#1e222d"><path d="M14 22H7V11H0V4h14v18zM28 22h-8l7.5-18h8L28 22z"/><circle cx="20" cy="8" r="4"/></g>
<text x="35.7" y="508.2" font-size="13.3" fill="#262a35" stroke="#262a35" stroke-width="0.4" textLength="74.7" lengthAdjust="spacingAndGlyphs">TradingView</text>
</g>
</svg></body></html>
